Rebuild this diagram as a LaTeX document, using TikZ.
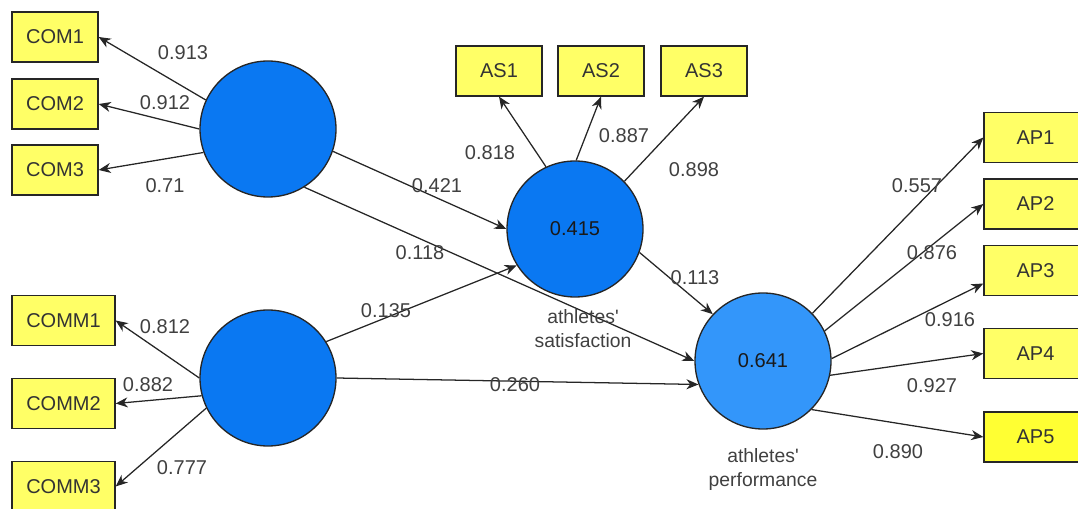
\documentclass[tikz,border=0pt]{standalone}
\usepackage{fontspec}
\setmainfont{Liberation Sans}[Ligatures=TeXOff]
\usetikzlibrary{arrows.meta}
\definecolor{boxyellow}{HTML}{FFFF66}
\definecolor{boxyellowB}{HTML}{FFFF33}
\definecolor{lvblue}{HTML}{0A78F2}
\definecolor{lvlight}{HTML}{3396FA}
\definecolor{labgray}{HTML}{404040}
\begin{document}
\begin{tikzpicture}[x=0.75pt,y=-0.75pt,
  ind/.style={draw=black!85, line width=1pt, fill=boxyellow, minimum width=64.5pt, minimum height=37.5pt, inner sep=0pt, font=\fontsize{15}{18}\selectfont, text=black!80},
  lv/.style={circle, draw=black!85, line width=1pt, fill=lvblue, minimum size=102pt, inner sep=0pt, font=\fontsize{15}{18}\selectfont, text=black!90},
  lab/.style={font=\fontsize{15}{18}\selectfont, text=labgray, inner sep=1pt},
  conn/.style={line width=0.95pt, draw=black!85, -{Stealth[length=9pt,width=7.5pt,inset=2.8pt]}}
]
\useasboundingbox (0,0) rectangle (1078,509);
\clip (0,0) rectangle (1078,509);
% indicators
\node[ind] (com1) at (55,37) {COM1};
\node[ind] (com2) at (55,104) {COM2};
\node[ind] (com3) at (55,170) {COM3};
\node[ind, minimum width=77.25pt] (comm1) at (63.5,320.5) {COMM1};
\node[ind, minimum width=77.25pt] (comm2) at (63.5,403.5) {COMM2};
\node[ind, minimum width=77.25pt] (comm3) at (63.5,486.5) {COMM3};
\node[ind] (as1) at (499,71) {AS1};
\node[ind] (as2) at (601,71) {AS2};
\node[ind] (as3) at (704,71) {AS3};
\node[ind, minimum width=77.25pt] (ap1) at (1035.5,137.5) {AP1};
\node[ind, minimum width=77.25pt] (ap2) at (1035.5,204) {AP2};
\node[ind, minimum width=77.25pt] (ap3) at (1035.5,270.5) {AP3};
\node[ind, minimum width=77.25pt] (ap4) at (1035.5,353.5) {AP4};
\node[ind, minimum width=77.25pt, fill=boxyellowB] (ap5) at (1035.5,437) {AP5};
% latent variables
\node[lv] (c1) at (268,129) {};
\node[lv] (c2) at (268,378) {};
\node[lv] (cas) at (575,229) {0.415};
\node[lv, fill=lvlight] (cap) at (763,361) {0.641};
% connectors
\draw[conn] (c1.155) -- (com1.east);
\draw[conn] (c1.west) -- (com2.east);
\draw[conn] (c1.200) -- (com3.east);
\draw[conn] (c2.west) -- (comm1.east);
\draw[conn] (c2.195) -- (comm2.east);
\draw[conn] (c2.206) -- (comm3.east);
\draw[conn] (cas.115) -- (as1.south);
\draw[conn] (cas.89) -- (as2.south);
\draw[conn] (cas.44) -- (as3.south);
\draw[conn] (c1.341) -- (cas.west);
\draw[conn] (c1.302) -- (cap.west);
\draw[conn] (c2.32) -- (cas.212);
\draw[conn] (c2.east) -- (cap.200);
\draw[conn] (cas.340) -- (cap.137);
\draw[conn] (cap.44) -- (ap1.west);
\draw[conn] (cap.26) -- (ap2.west);
\draw[conn] (cap.2) -- ([yshift=-9.75pt]ap3.west);
\draw[conn] (cap.348) -- (ap4.west);
\draw[conn] (cap.315) -- (ap5.west);
% labels
\node[lab] (l1) at (183,53) {0.913};
\node[lab] (l2) at (165,103) {0.912};
\node[lab] (l3) at (165,186) {0.71};
\node[lab] (l4) at (165,327) {0.812};
\node[lab] (l5) at (148,385) {0.882};
\node[lab] (l6) at (182,468) {0.777};
\node[lab] (l7) at (490,153) {0.818};
\node[lab] (l8) at (624,136) {0.887};
\node[lab] (l9) at (694,170) {0.898};
\node[lab] (l10) at (437,186) {0.421};
\node[lab] (l11) at (420,253) {0.118};
\node[lab] (l12) at (386,311) {0.135};
\node[lab] (l13) at (515,385) {0.260};
\node[lab] (l14) at (695,278) {0.113};
\node[lab] (l15) at (917,186) {0.557};
\node[lab] (l16) at (932,253) {0.876};
\node[lab] (l17) at (950,320) {0.916};
\node[lab] (l18) at (932,386) {0.927};
\node[lab] (l19) at (898,452) {0.890};
\node[lab, align=center, font=\fontsize{14.5}{18}\selectfont] (nas) at (583,329) {athletes'\\satisfaction};
\node[lab, align=center, font=\fontsize{14.5}{18}\selectfont] (nap) at (763,470) {athletes'\\performance};
\end{tikzpicture}
\end{document}
